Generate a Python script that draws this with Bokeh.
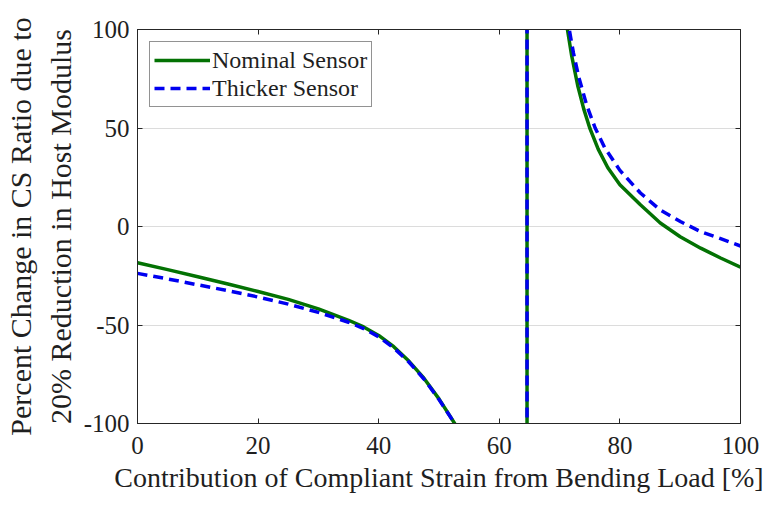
from bokeh.plotting import figure
from bokeh.models import Range1d, LinearAxis, FixedTicker, Legend, LegendItem
from bokeh.embed import file_html
from bokeh.resources import INLINE

# ---- data ----
# left branch, asymptote jump at x ~ 64.6, right branch
nominal_x = [0, 5, 10, 15, 20, 25, 30, 35, 37.5, 40, 42.5, 45, 47.5, 50, 52.6,
             64.6, 64.6,
             71.3, 72.0, 73.0, 74.0, 75.0, 76.4, 78.0, 80.0, 83.4, 86.7, 90.0, 93.4, 96.7, 100]
nominal_y = [-18.4, -21.9, -25.5, -29.2, -33.0, -37.0, -41.8, -47.6, -51.0, -55.3, -61.0, -68.3, -77.0, -87.5, -100,
             -1000, 1000,
             100, 86.7, 71.6, 59.7, 50, 39.3, 29.8, 21.2, 11.0, 1.8, -5.2, -11.0, -16.0, -20.6]

thicker_x = [0, 5, 10, 15, 20, 25, 30, 35, 37.5, 40, 42.5, 45, 47.5, 50, 52.6,
             64.6, 64.6,
             71.6, 72.3, 73.2, 74.5, 75.9, 77.5, 80.0, 83.4, 86.7, 90.1, 93.4, 96.7, 100]
thicker_y = [-23.8, -26.6, -29.6, -32.6, -35.8, -39.4, -43.6, -48.6, -51.8, -56.0, -61.6, -68.8, -77.4, -87.8, -100,
             -1000, 1000,
             100, 88.0, 75.6, 61.5, 50, 39.9, 28.5, 17.0, 8.4, 2.4, -2.6, -6.2, -9.9]

x_ticks = [0, 20, 40, 60, 80, 100]
y_ticks = [-100, -50, 0, 50, 100]
y_tick_labels = ["-100", "-50", "0", "50", "100"]
series_names = ["Nominal Sensor", "Thicker Sensor"]
x_label = "Contribution of Compliant Strain from Bending Load [%]"
y_label = "Percent Change in CS Ratio due to\n20% Reduction in Host Modulus"

FONT = "Liberation Serif"
DARK = "#262626"
TEXT = "#1f1f1f"

p = figure(width=773, height=506, output_backend="svg", toolbar_location=None,
           x_range=Range1d(0, 100), y_range=Range1d(-100, 100),
           min_border_left=137, min_border_right=33, min_border_top=29, min_border_bottom=83,
           background_fill_color="white", border_fill_color="white")

p.outline_line_color = DARK
p.outline_line_width = 1
p.xgrid.visible = False
p.ygrid.grid_line_color = "#dcdcdc"
p.ygrid.grid_line_width = 1
p.ygrid.ticker = FixedTicker(ticks=y_ticks)

for ax in (p.xaxis[0], p.yaxis[0]):
    ax.major_tick_in = 5
    ax.major_tick_out = 0
    ax.minor_tick_in = 0
    ax.minor_tick_out = 0
    ax.major_tick_line_color = DARK
    ax.axis_line_color = DARK
    ax.major_label_text_font = FONT
    ax.major_label_text_font_size = "25px"
    ax.major_label_text_color = TEXT
    ax.axis_label_text_font = FONT
    ax.axis_label_text_font_style = "normal"
    ax.axis_label_text_color = TEXT

p.xaxis[0].ticker = FixedTicker(ticks=x_ticks)
p.yaxis[0].ticker = FixedTicker(ticks=y_ticks)
p.yaxis[0].major_label_overrides = {t: s for t, s in zip(y_ticks, y_tick_labels)}
p.xaxis[0].axis_label = x_label
p.yaxis[0].axis_label = y_label
p.xaxis[0].axis_label_text_font_size = "28px"
p.yaxis[0].axis_label_text_font_size = "30px"
p.xaxis[0].major_label_standoff = 13
p.yaxis[0].major_label_standoff = 8
p.xaxis[0].axis_label_standoff = 5
p.yaxis[0].axis_label_standoff = 4

# mirrored axes (ticks only)
top = LinearAxis(ticker=FixedTicker(ticks=x_ticks))
right = LinearAxis(ticker=FixedTicker(ticks=y_ticks))
top.major_label_overrides = {t: "" for t in x_ticks}
right.major_label_overrides = {t: "" for t in y_ticks}
for ax in (top, right):
    ax.major_tick_in = 5
    ax.major_tick_out = 0
    ax.minor_tick_in = 0
    ax.minor_tick_out = 0
    ax.major_tick_line_color = DARK
    ax.axis_line_color = DARK
    ax.major_label_standoff = 0
p.add_layout(top, "above")
p.add_layout(right, "right")

r1 = p.line(nominal_x, nominal_y, line_color="#037203", line_width=3.5)
r2 = p.line(thicker_x, thicker_y, line_color="#0000f0", line_width=3.5, line_dash="10 6")

legend = Legend(items=[LegendItem(label=series_names[0], renderers=[r1]),
                       LegendItem(label=series_names[1], renderers=[r2])],
                location="top_left")
legend.margin = 12
legend.padding = 4
legend.spacing = 0
legend.glyph_width = 56
legend.glyph_height = 28
legend.label_height = 28
legend.label_standoff = 2
legend.label_text_font = FONT
legend.label_text_font_size = "24px"
legend.label_text_color = TEXT
legend.border_line_color = DARK
legend.border_line_width = 1
legend.background_fill_color = "white"
legend.background_fill_alpha = 1
p.add_layout(legend)

open("out.html", "w").write(file_html(p, INLINE))
